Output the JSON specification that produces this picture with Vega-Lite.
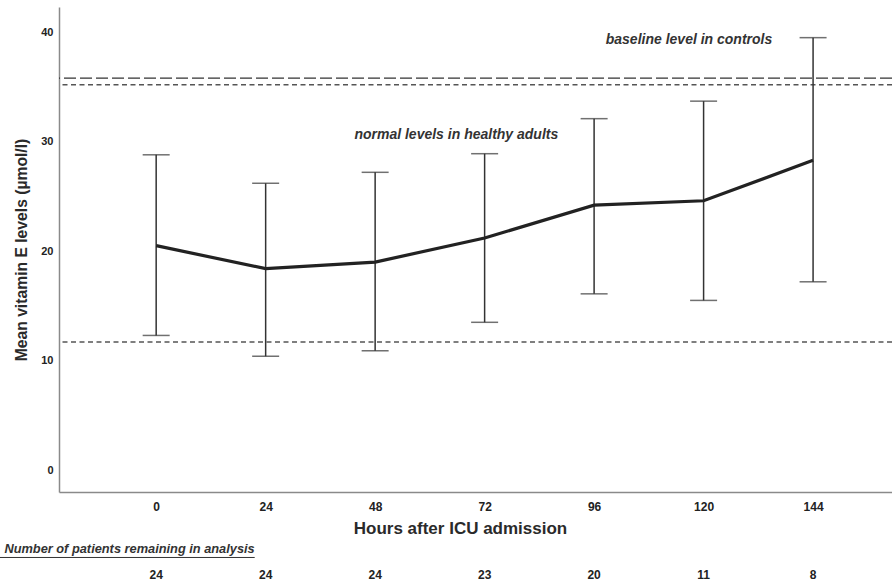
{
  "$schema": "https://vega.github.io/schema/vega-lite/v6.json",
  "width": 833,
  "height": 485,
  "autosize": "none",
  "padding": {"left": 59, "top": 7, "right": 0, "bottom": 93},
  "background": "white",
  "config": {
    "view": {"stroke": null},
    "font": "Liberation Sans",
    "text": {"font": "Liberation Sans"}
  },
  "datasets": {
    "pts": [
      {"hour": 0, "mean": 20.5, "lo": 12.3, "hi": 28.8, "n": 24},
      {"hour": 24, "mean": 18.4, "lo": 10.4, "hi": 26.2, "n": 24},
      {"hour": 48, "mean": 19.0, "lo": 10.9, "hi": 27.2, "n": 24},
      {"hour": 72, "mean": 21.2, "lo": 13.5, "hi": 28.9, "n": 23},
      {"hour": 96, "mean": 24.2, "lo": 16.1, "hi": 32.1, "n": 20},
      {"hour": 120, "mean": 24.6, "lo": 15.5, "hi": 33.7, "n": 11},
      {"hour": 144, "mean": 28.3, "lo": 17.2, "hi": 39.5, "n": 8}
    ],
    "refs": [
      {"level": 35.8, "kind": "baseline"},
      {"level": 35.2, "kind": "normal"},
      {"level": 11.7, "kind": "normal"}
    ],
    "notes": [
      {"label": "baseline level in controls", "hour": 116.8, "value": 39.3, "kind": "note"},
      {"label": "normal levels in healthy adults", "hour": 65.8, "value": 30.6, "kind": "note"},
      {"label": "Number of patients remaining in analysis", "hour": 21.6, "value": -7.25, "kind": "caption"}
    ]
  },
  "encoding": {
    "x": {
      "field": "hour", "type": "quantitative",
      "scale": {"domain": [-21.3, 161.3], "nice": false, "zero": false},
      "axis": {
        "values": [0, 24, 48, 72, 96, 120, 144],
        "grid": false, "ticks": false,
        "domainColor": "#8a8a8a", "domainWidth": 1.5,
        "labelFont": "Liberation Sans", "labelFontWeight": "bold", "labelFontSize": 12, "labelColor": "#222",
        "labelPadding": 9,
        "title": "Hours after ICU admission",
        "titleFont": "Liberation Sans", "titleFontSize": 17, "titleFontWeight": "bold", "titleColor": "#2a2a2a",
        "titlePadding": 8, "titleX": 401
      }
    },
    "y": {
      "type": "quantitative",
      "scale": {"domain": [-2.0, 42.3], "nice": false, "zero": false},
      "axis": {
        "values": [0, 10, 20, 30, 40],
        "grid": false, "ticks": false,
        "domainColor": "#8a8a8a", "domainWidth": 1.5,
        "labelFont": "Liberation Sans", "labelFontWeight": "bold", "labelFontSize": 11, "labelColor": "#222",
        "labelPadding": 6,
        "title": "Mean vitamin E levels (µmol/l)",
        "titleFont": "Liberation Sans", "titleFontSize": 15.7, "titleFontWeight": "bold", "titleColor": "#2a2a2a",
        "titlePadding": 11
      }
    }
  },
  "layer": [
    {
      "data": {"name": "refs"},
      "transform": [{"filter": "datum.kind == 'baseline'"}],
      "mark": {"type": "rule", "color": "#333", "strokeWidth": 1.3, "strokeDash": [12, 4]},
      "encoding": {"y": {"field": "level", "type": "quantitative"}, "x": null}
    },
    {
      "data": {"name": "refs"},
      "transform": [{"filter": "datum.kind == 'normal'"}],
      "mark": {"type": "rule", "color": "#555", "strokeWidth": 1.3, "strokeDash": [5, 3.5]},
      "encoding": {"y": {"field": "level", "type": "quantitative"}, "x": null}
    },
    {
      "data": {"name": "pts"},
      "mark": {
        "type": "errorbar",
        "ticks": {"size": 27, "thickness": 1.5, "color": "#333"},
        "rule": {"strokeWidth": 1.5, "color": "#333"}
      },
      "encoding": {
        "y": {"field": "lo", "type": "quantitative"},
        "y2": {"field": "hi"}
      }
    },
    {
      "data": {"name": "pts"},
      "mark": {"type": "line", "color": "#222", "strokeWidth": 3.2},
      "encoding": {"y": {"field": "mean", "type": "quantitative"}}
    },
    {
      "data": {"name": "pts"},
      "mark": {"type": "text", "clip": false, "font": "Liberation Sans", "fontWeight": "bold", "fontSize": 12, "color": "#222", "baseline": "middle"},
      "encoding": {
        "y": {"datum": -9.6},
        "text": {"field": "n", "type": "quantitative"}
      }
    },
    {
      "data": {"name": "notes"},
      "transform": [{"filter": "datum.kind == 'caption'"}],
      "mark": {"type": "text", "clip": false, "font": "Liberation Sans", "fontWeight": "bold", "fontStyle": "italic", "fontSize": 12.8, "color": "#333", "align": "right", "baseline": "middle"},
      "encoding": {
        "y": {"field": "value", "type": "quantitative"},
        "text": {"field": "label", "type": "nominal"}
      }
    },
    {
      "data": {"name": "notes"},
      "transform": [{"filter": "datum.kind == 'caption'"}],
      "mark": {"type": "rule", "clip": false, "color": "#333", "strokeWidth": 1, "yOffset": 8},
      "encoding": {
        "x": {"datum": -40},
        "x2": {"field": "hour"},
        "y": {"field": "value", "type": "quantitative"}
      }
    },
    {
      "data": {"name": "notes"},
      "transform": [{"filter": "datum.kind == 'note'"}],
      "mark": {"type": "text", "font": "Liberation Sans", "fontWeight": "bold", "fontStyle": "italic", "fontSize": 14, "color": "#333", "baseline": "middle"},
      "encoding": {
        "y": {"field": "value", "type": "quantitative"},
        "text": {"field": "label", "type": "nominal"}
      }
    }
  ]
}
